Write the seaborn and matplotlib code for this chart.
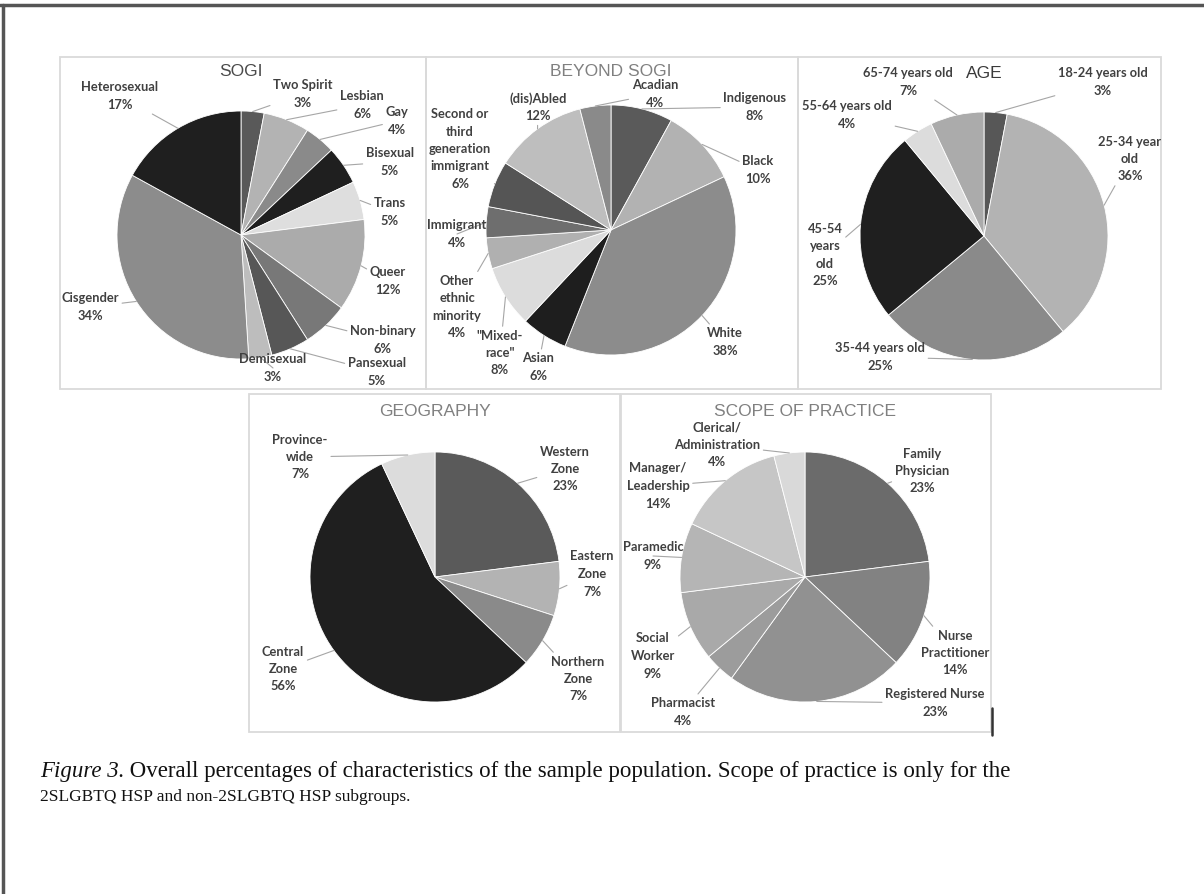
import numpy as np
import matplotlib.pyplot as plt
import seaborn as sns
from matplotlib.patches import Rectangle

sns.set_theme(style="white")
plt.rcParams['font.family'] = ['Lato', 'DejaVu Sans']

W, H = 1204, 894

# ---- data (clockwise from 12 o'clock) ----
sogi_labels = ["Two Spirit", "Lesbian", "Gay", "Bisexual", "Trans", "Queer",
               "Non-binary", "Pansexual", "Demisexual", "Cisgender", "Heterosexual"]
sogi_values = [3, 6, 4, 5, 5, 12, 6, 5, 3, 34, 17]

beyond_labels = ["Indigenous", "Black", "White", "Asian", "\"Mixed-\nrace\"",
                 "Other\nethnic\nminority", "Immigrant",
                 "Second or\nthird\ngeneration\nimmigrant", "(dis)Abled", "Acadian"]
beyond_values = [8, 10, 38, 6, 8, 4, 4, 6, 12, 4]

age_labels = ["18-24 years old", "25-34 year\nold", "35-44 years old",
              "45-54\nyears\nold", "55-64 years old", "65-74 years old"]
age_values = [3, 36, 25, 25, 4, 7]

geo_labels = ["Western\nZone", "Eastern\nZone", "Northern\nZone", "Central\nZone", "Province-\nwide"]
geo_values = [23, 7, 7, 56, 7]

scope_labels = ["Family\nPhysician", "Nurse\nPractitioner", "Registered Nurse", "Pharmacist",
                "Social\nWorker", "Paramedic", "Manager/\nLeadership", "Clerical/\nAdministration"]
scope_values = [23, 14, 23, 4, 9, 9, 14, 4]

# ---- styling / layout (pixels, origin top-left) ----
panels = [
    dict(title="SOGI", tcolor="#4a4a4a", box=(60, 57, 426, 389), center=(241, 235), r=124,
         labels=sogi_labels, values=sogi_values,
         colors=["#595959", "#b3b3b3", "#8a8a8a", "#1f1f1f", "#dedede", "#ababab",
                 "#787878", "#575757", "#bdbdbd", "#8c8c8c", "#1f1f1f"],
         pos=[(303, 94), (362, 105), (397, 121), (390, 162), (390, 212), (388, 281),
              (383, 340), (377, 372), (273, 368), (90, 307), (120, 96)]),
    dict(title="BEYOND SOGI", tcolor="#808080", box=(426, 57, 798, 389), center=(611, 230), r=125,
         labels=beyond_labels, values=beyond_values,
         colors=["#5a5a5a", "#b2b2b2", "#8c8c8c", "#1e1e1e", "#dcdcdc", "#b0b0b0",
                 "#6e6e6e", "#555555", "#bebebe", "#8a8a8a"],
         pos=[(755, 107), (758, 170), (725, 342), (538, 367), (500, 353), (457, 307),
              (457, 234), (460, 149), (538, 107), (655, 94)]),
    dict(title="AGE", tcolor="#3a3a3a", box=(798, 57, 1161, 389), center=(984, 236), r=124,
         labels=age_labels, values=age_values,
         colors=["#575757", "#b3b3b3", "#8a8a8a", "#1f1f1f", "#dcdcdc", "#ababab"],
         pos=[(1103, 82), (1130, 159), (880, 357), (825, 255), (847, 115), (908, 82)]),
    dict(title="GEOGRAPHY", tcolor="#808080", box=(249, 394, 620, 732), center=(435, 577), r=125,
         labels=geo_labels, values=geo_values,
         colors=["#5a5a5a", "#b3b3b3", "#8a8a8a", "#1f1f1f", "#dcdcdc"],
         pos=[(565, 469), (592, 574), (578, 679), (283, 669), (300, 457)]),
    dict(title="SCOPE OF PRACTICE", tcolor="#808080", box=(621, 394, 991, 732), center=(805, 577), r=125,
         labels=scope_labels, values=scope_values,
         colors=["#6b6b6b", "#828282", "#919191", "#9c9c9c", "#a9a9a9", "#b5b5b5",
                 "#c6c6c6", "#d9d9d9"],
         pos=[(922, 471), (955, 653), (935, 703), (683, 712), (653, 656), (653, 556),
              (658, 486), (717, 445)]),
]
title_y = {"SOGI": 72, "BEYOND SOGI": 71, "AGE": 73, "GEOGRAPHY": 412, "SCOPE OF PRACTICE": 412}

fig = plt.figure(figsize=(W / 100, H / 100), dpi=100)
ax = fig.add_axes([0, 0, 1, 1])

for p in panels:
    cx, cy = p["center"]
    cy = H - cy
    r = p["r"]
    vals = np.array(p["values"], dtype=float)
    ax.pie(vals, colors=p["colors"], startangle=90, counterclock=False,
           center=(cx, cy), radius=r,
           wedgeprops=dict(edgecolor="white", linewidth=0.6))
    x0, y0, x1, y1 = p["box"]
    ax.add_patch(Rectangle((x0, H - y1), x1 - x0, y1 - y0, fill=False,
                           edgecolor="#dadada", linewidth=1.3))
    ax.text(cx, H - title_y[p["title"]], p["title"], ha="center", va="center",
            fontsize=12.5, color=p["tcolor"], family=["Liberation Sans", "DejaVu Sans"])
    # label with leader line to slice edge at mid angle
    cum = np.cumsum(vals) - vals / 2
    ang = np.deg2rad(90 - 360 * cum / vals.sum())
    for lab, v, a, (lx, ly) in zip(p["labels"], vals, ang, p["pos"]):
        ex, ey = cx + r * np.cos(a), cy + r * np.sin(a)
        ax.annotate(f"{lab}\n{int(v)}%", xy=(ex, ey), xytext=(lx, H - ly),
                    ha="center", va="center", fontsize=9.3, fontweight="bold",
                    color="#404040", linespacing=1.55,
                    arrowprops=dict(arrowstyle="-", color="#a6a6a6", lw=0.8,
                                    shrinkA=0, shrinkB=0))

# stray mark next to the scope panel
ax.plot([992, 992], [H - 708, H - 735], color="#333333", lw=1.8)

# outer frame (top and left edge)
ax.plot([0, W], [H - 5, H - 5], color="#555555", lw=2.5)
ax.plot([3, 3], [0, H - 5], color="#555555", lw=2.5)

ax.set_xlim(0, W)
ax.set_ylim(0, H)
ax.set_aspect("auto")
ax.axis("off")

# caption
serif = ["Liberation Serif", "DejaVu Serif"]
cap1 = ax.text(40, H - 771, "Figure 3.", ha="left", va="center", fontsize=16.5,
               style="italic", family=serif, color="#111111")
fig.canvas.draw()
bb = cap1.get_window_extent()
ax.text(bb.x1, H - 771, " Overall percentages of characteristics of the sample population. "
        "Scope of practice is only for the", ha="left", va="center", fontsize=16.5,
        family=serif, color="#111111")
ax.text(40, H - 797, "2SLGBTQ HSP and non-2SLGBTQ HSP subgroups.", ha="left", va="center",
        fontsize=12.5, family=serif, color="#111111")

fig.savefig("out.png", dpi=100, facecolor="white")
